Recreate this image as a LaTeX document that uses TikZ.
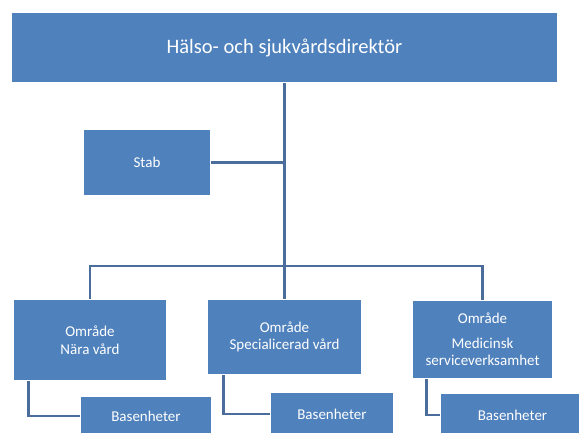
\documentclass[tikz,border=0pt]{standalone}
\usepackage{fontspec}
\setmainfont{Carlito}
\usepackage{xcolor}
\usepackage{tikz}
\usetikzlibrary{calc}
\definecolor{boxblue}{HTML}{4F81BD}
\definecolor{linkblue}{HTML}{4A6D9C}
\definecolor{rim}{HTML}{CBCBCB}
\tikzset{
  unit/.style={fill=boxblue, draw=rim, double=white, double distance=1.1pt, line width=0.45pt, text=white, align=center, inner sep=0pt},
  link/.style={draw=linkblue, line width=2.6pt},
  big/.style={font=\fontsize{20.5}{24}\selectfont},
  small/.style={font=\fontsize{15}{17.5}\selectfont}
}

\begin{document}
\begin{tikzpicture}[x=1pt,y=-1pt]
  \useasboundingbox (0,0) rectangle (579,432);
  \clip (0,0) rectangle (579,432);

  \node[unit, big, minimum width=547pt, minimum height=71pt] (dir) at (284.5,47.5) {Hälso- och sjukvårdsdirektör};
  \node[unit, small, minimum width=128pt, minimum height=67pt] (stab) at (147,162.5) {Stab};

  \node[unit, small, minimum width=154pt, minimum height=82pt] (omr1) at (90,340) {Område\\Nära vård};
  \node[unit, small, minimum width=155pt, minimum height=76pt] (omr2) at (284.5,337) {Område\\Specialicerad vård};
  \node[unit, small, minimum width=141pt, minimum height=79pt] (omr3) at (482.5,339.5) {Område\\[7pt]Medicinsk\\serviceverksamhet};

  \node[unit, small, minimum width=132pt, minimum height=40pt] (bas1) at (146,416) {Basenheter};
  \node[unit, small, minimum width=124pt, minimum height=44pt] (bas2) at (332,414) {Basenheter};
  \node[unit, small, minimum width=145pt, minimum height=44pt] (bas3) at (512.5,415) {Basenheter};

  \coordinate (bus) at (284.5,266);

  \draw[link] (dir.south) -- (omr2.north);                       % main trunk
  \draw[link] (stab.east) -- (dir.south |- stab.east);           % staff branch
  \draw[link] (omr1.north) -- (omr1.north |- bus) -- (omr3.north |- bus) -- (omr3.north);

  \draw[link] ($(omr1.south west)+(16,0)$) |- (bas1.west);
  \draw[link] ($(omr2.south west)+(17,0)$) |- (bas2.west);
  \draw[link] ($(omr3.south west)+(15,0)$) |- (bas3.west);
\end{tikzpicture}
\end{document}
